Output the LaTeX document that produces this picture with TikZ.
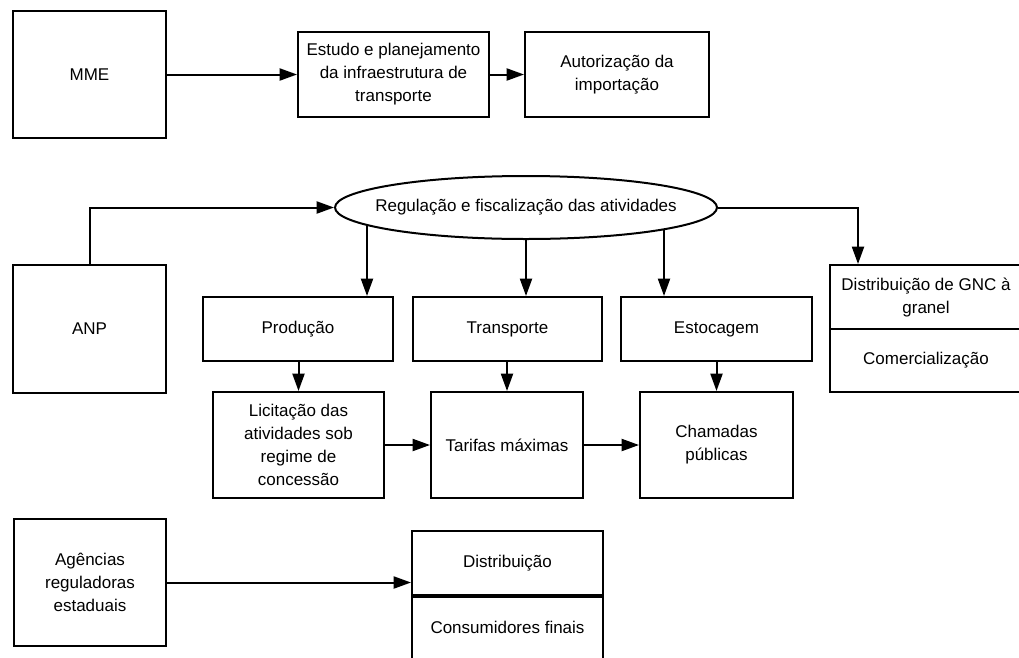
\documentclass[tikz,border=0pt]{standalone}
\usepackage{fontspec}
\setmainfont{Liberation Sans}
\usetikzlibrary{shapes.geometric,arrows.meta,calc,backgrounds}
\begin{document}
\begin{tikzpicture}[x=0.75pt,y=-0.75pt,
  box/.style={draw, line width=1.5pt, rectangle, align=center, inner sep=2pt,
    font=\fontsize{12.75}{17.25}\selectfont, fill=white},
  arr/.style={line width=1.5pt, -{Triangle[length=13pt,width=9pt]}},
  divider/.style={line width=3pt}
]
\useasboundingbox (0,0) rectangle (1019,657);
\clip (0,0) rectangle (1019,657);

\node[box, minimum width=114.75pt, minimum height=95.25pt] (mme) at (89.5,74.5) {MME};
\node[box, minimum width=143.25pt, minimum height=63.75pt] (estudo) at (393.5,74.5) {Estudo e planejamento\\da infraestrutura de\\transporte};
\node[box, minimum width=138pt, minimum height=63.75pt] (autoriz) at (617,74.5) {Autorização da\\importação};

\node[box, ellipse, minimum width=286.5pt, minimum height=47.25pt, inner sep=0pt] (reg) at (526,207.5) {\makebox[0pt]{Regulação e fiscalização das atividades}};

\node[box, minimum width=114.75pt, minimum height=96pt] (anp) at (89.5,329) {ANP};
\node[box, minimum width=142.5pt, minimum height=48pt] (prod) at (298,329) {Produção};
\node[box, minimum width=141.75pt, minimum height=48pt] (transp) at (507.5,329) {Transporte};
\node[box, minimum width=143.25pt, minimum height=48pt] (estoc) at (716.5,329) {Estocagem};
\node[box, minimum width=144pt, minimum height=48pt] (gnc1) at (926,297) {Distribuição de GNC à\\granel};
\node[box, minimum width=144pt, minimum height=47.25pt] (gnc2) at (926,360.5) {Comercialização};

\node[box, minimum width=128.25pt, minimum height=79.5pt] (lic) at (298.5,445) {Licitação das\\atividades sob\\regime de\\concessão};
\node[box, minimum width=114pt, minimum height=79.5pt] (tar) at (507,445) {Tarifas máximas};
\node[box, minimum width=114.75pt, minimum height=79.5pt] (cham) at (716.5,445) {Chamadas\\públicas};

\node[box, minimum width=114pt, minimum height=95.25pt] (ag) at (90,582.5) {Agências\\reguladoras\\estaduais};
\node[box, minimum width=143.25pt, minimum height=48pt] (dist1) at (507.5,563) {Distribuição};
\node[box, minimum width=143.25pt, minimum height=48.75pt] (dist2) at (507.5,627.5) {Consumidores finais};
\draw[divider] (dist1.south west) -- (dist1.south east);

\begin{scope}[on background layer]
\draw[arr] (mme.east) -- (estudo.west);
\draw[arr] (estudo.east) -- (autoriz.west);
\draw[arr] (anp.north) |- (reg.west);
\coordinate (r1) at ($(reg.center)+(-159,0)$);
\coordinate (r3) at ($(reg.center)+(138,0)$);
\draw[arr] (r1) -- (r1 |- prod.north);
\draw[arr] (reg.center) -- (reg.center |- transp.north);
\draw[arr] (r3) -- (r3 |- estoc.north);
\coordinate (g1) at ($(gnc1.north west)+(29,0)$);
\draw[arr] (reg.east) -| (g1);
\draw[arr] (lic.north |- prod.south) -- (lic.north);
\draw[arr] (tar.north |- transp.south) -- (tar.north);
\draw[arr] (cham.north |- estoc.south) -- (cham.north);
\draw[arr] (lic.east) -- (lic.east -| tar.west);
\draw[arr] (tar.east) -- (tar.east -| cham.west);
\draw[arr] (ag.east) -- (ag.east -| dist1.west);
\end{scope}
\end{tikzpicture}
\end{document}
